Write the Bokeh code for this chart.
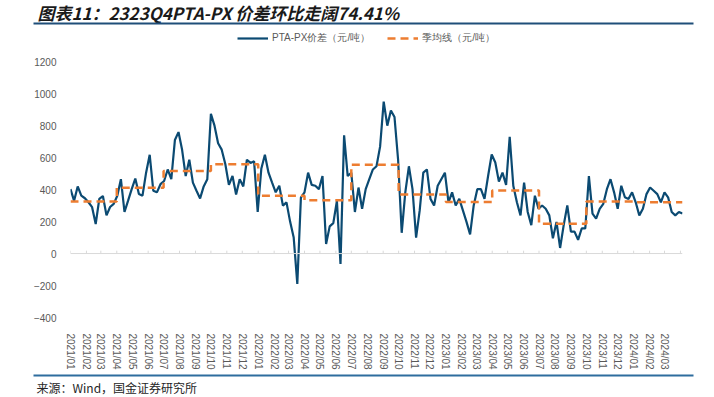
import pandas as pd
from bokeh.plotting import figure
from bokeh.layouts import column
from bokeh.models import (Range1d, FixedTicker, Span, Legend, LegendItem,
                          DatetimeTickFormatter, AllLabels)
from bokeh.core.properties import value
from bokeh.embed import file_html
from bokeh.resources import INLINE

# ---------------- data ----------------
series_start = "2021-01-01"          # weekly samples of the daily spread
spread = [
    403, 330, 420, 362, 346, 321, 290, 185, 342, 360, 239, 291, 311,
    362, 465, 260, 331, 403, 469, 372, 362, 506, 618, 393, 383, 434,
    454, 526, 465, 710, 760, 649, 485, 587, 444, 393, 345, 420, 465,
    874, 800, 690, 650, 560, 430, 485, 370, 465, 420, 587, 567, 577,
    260, 530, 618, 506, 444, 383, 424, 300, 320, 200, 100, -190, 350,
    383, 506, 430, 424, 403, 485, 60, 170, 190, 330, -65, 740, 485,
    506, 260, 413, 280, 403, 465, 526, 546, 669, 950, 800, 895, 854,
    587, 130, 383, 546, 403, 100, 270, 506, 526, 342, 301, 424, 465,
    506, 321, 383, 301, 342, 270, 198, 120, 301, 403, 403, 342, 485,
    620, 570, 450, 506, 430, 731, 424, 321, 239, 444, 260, 178, 362,
    280, 301, 280, 239, 96, 198, 35, 178, 301, 137, 137, 86, 157,
    157, 485, 250, 219, 280, 311, 403, 465, 383, 280, 424, 352, 342,
    383, 321, 239, 280, 372, 413, 393, 372, 321, 383, 352, 260, 239,
    260, 250,
]
quarter_starts = ["2021-01-01", "2021-04-01", "2021-07-01", "2021-10-01",
                  "2022-01-01", "2022-04-01", "2022-07-01", "2022-10-01",
                  "2023-01-01", "2023-04-01", "2023-07-01", "2023-10-01",
                  "2024-01-01"]
series_end = "2024-04-05"
quarter_avg = [325, 411, 517, 558, 362, 333, 555, 370, 323, 395, 186.4, 325.1, 321]

tick_months = list(pd.date_range("2021-01-01", "2024-04-01", freq="MS"))
tick_labels = [d.strftime("%Y/%m") for d in tick_months[:-1]]
y_ticks = [-400, -200, 0, 200, 400, 600, 800, 1000, 1200]

series_name = "PTA-PX价差（元/吨）"
avg_name = "季均线（元/吨）"
title_text = "图表11：2323Q4PTA-PX 价差环比走阔74.41%"
source_text = "来源：Wind，国金证券研究所"

# ---------------- build ----------------
dates = pd.date_range(series_start, periods=len(spread), freq="7D")
q_x = [pd.Timestamp(d) for d in quarter_starts] + [pd.Timestamp(series_end)]
q_y = quarter_avg + [quarter_avg[-1]]

FONT = "Liberation Sans"
CJK = "Noto Sans CJK SC"
GREY = "#595959"
W = 714


def banner(height):
    f = figure(width=W, height=height, x_range=Range1d(0, W),
               y_range=Range1d(height, 0), min_border=0,
               output_backend="svg", toolbar_location=None,
               x_axis_location=None, y_axis_location=None,
               frame_align=False)
    f.outline_line_color = None
    f.grid.visible = False
    return f


# --- top banner: title and rule
top = banner(28)
top.text(x=[37], y=[12], text=[title_text], text_font=value(CJK),
         text_font_style="bold italic", text_font_size="17px",
         text_baseline="middle", text_align="left", text_color="#1a1a1a")
top.segment(x0=[33], y0=[23], x1=[693], y1=[23], line_width=2,
            line_color="#1F4E79")

# --- main chart
p = figure(width=W, height=344, x_axis_type="datetime",
           output_backend="svg", toolbar_location=None,
           x_range=Range1d(pd.Timestamp(series_start), pd.Timestamp(series_end)),
           y_range=Range1d(-400, 1408),
           min_border_left=70, min_border_right=32,
           min_border_top=0, min_border_bottom=49, frame_align=False)
p.outline_line_color = None
p.grid.visible = False

p.yaxis.ticker = FixedTicker(ticks=y_ticks)
p.yaxis.axis_line_color = None
p.yaxis.major_tick_line_color = None
p.yaxis.minor_tick_line_color = None
p.yaxis.major_label_standoff = 8
p.yaxis.major_label_text_font = FONT
p.yaxis.major_label_text_font_size = "10px"
p.yaxis.major_label_text_color = GREY

tick_ms = [int(d.value // 10**6) for d in tick_months[:-1]]
p.xaxis.ticker = FixedTicker(ticks=tick_ms)
p.xaxis.formatter = DatetimeTickFormatter(
    days="%Y/%m", months="%Y/%m", years="%Y/%m", hours="%Y/%m",
    minutes="%Y/%m", seconds="%Y/%m", milliseconds="%Y/%m",
    minsec="%Y/%m", hourmin="%Y/%m")
p.xaxis.major_label_overrides = {ms: lab for ms, lab in zip(tick_ms, tick_labels)}
p.xaxis.major_label_policy = AllLabels()
p.xaxis.major_label_orientation = "vertical"
p.xaxis.axis_line_color = None
p.xaxis.major_tick_line_color = None
p.xaxis.minor_tick_line_color = None
p.xaxis.major_label_standoff = 10
p.xaxis.major_label_text_font = FONT
p.xaxis.major_label_text_font_size = "10px"
p.xaxis.major_label_text_color = GREY

p.add_layout(Span(location=0, dimension="width", line_color="#D9D9D9", line_width=1))
p.segment(x0=tick_months, y0=[0] * len(tick_months), x1=tick_months,
          y1=[18] * len(tick_months), line_color="#D9D9D9", line_width=1)

blue = p.line(dates, spread, line_color="#0B4A72", line_width=2.2)
orange = p.step(x=q_x, y=q_y, mode="after", line_color="#ED7D31",
                line_width=2.5, line_dash="8 5")

legend = Legend(items=[LegendItem(label=series_name, renderers=[blue]),
                       LegendItem(label=avg_name, renderers=[orange])],
                orientation="horizontal", location=(167, 272))
legend.border_line_color = None
legend.background_fill_alpha = 0
legend.label_text_font = FONT
legend.label_text_font_size = "10px"
legend.label_text_color = GREY
legend.glyph_width = 31
legend.glyph_height = 12
legend.label_height = 12
legend.spacing = 17
legend.padding = 0
legend.margin = 0
legend.label_standoff = 4
p.add_layout(legend)

# --- bottom banner: rule and source
bottom = banner(25)
bottom.segment(x0=[33], y0=[3], x1=[693], y1=[3], line_width=2,
               line_color="#2E6D9E")
bottom.text(x=[36], y=[15], text=[source_text], text_font=value(CJK),
            text_font_size="12px", text_baseline="middle", text_align="left",
            text_color="#262626")

layout = column(top, p, bottom, spacing=0)
open("out.html", "w").write(file_html(layout, INLINE))
